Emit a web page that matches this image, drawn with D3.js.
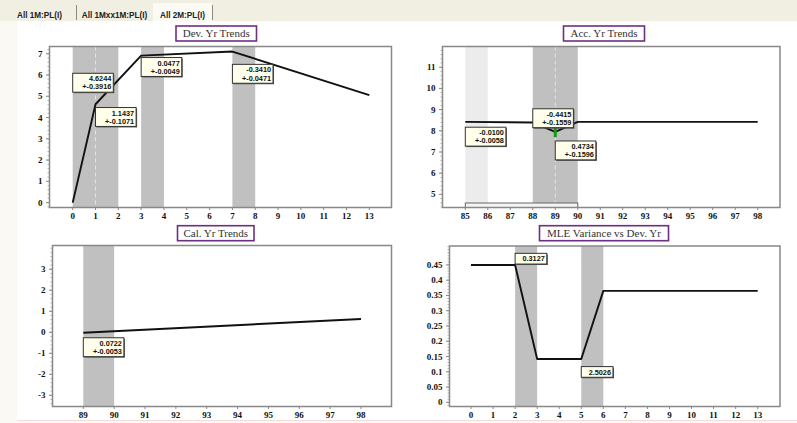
<!DOCTYPE html>
<html>
<head>
<meta charset="utf-8">
<script src="https://cdn.jsdelivr.net/npm/d3@7"></script>
<style>
  html, body { margin: 0; padding: 0; background: #ffffff; }
  svg { display: block; }
</style>
</head>
<body>
<svg id="chart" width="797" height="423"></svg>
<script>
// ---- tabs ----
const tabNames = ["All 1M:PL(I)", "All 1Mxx1M:PL(I)", "All 2M:PL(I)"];

// ---- Dev. Yr Trends ----
const devTicks = [0,1,2,3,4,5,6,7,8,9,10,11,12,13];
const devYTicks = [0,1,2,3,4,5,6,7];
const devYears = [0, 1, 3, 7, 13];
const devValues = [0, 4.6244, 6.9118, 7.1026, 5.0566];
const devBands = [[0, 2], [3, 4], [7, 8]];
const devNotes = [
  { x: 0, y: 6.08, lines: ["4.6244", "+-0.3916"] },
  { x: 1, y: 4.47, lines: ["1.1437", "+-0.1071"] },
  { x: 3, y: 6.82, lines: ["0.0477", "+-0.0049"] },
  { x: 7, y: 6.50, lines: ["-0.3410", "+-0.0471"] }
];

// ---- Acc. Yr Trends ----
const accTicks = [85,86,87,88,89,90,91,92,93,94,95,96,97,98];
const accYTicks = [5,6,7,8,9,10,11];
const accYears = [85, 88, 89, 90, 98];
const accValues = [8.42, 8.39, 7.95, 8.42, 8.42];
const accBandsLight = [[85, 86]];
const accBands = [[88, 90]];
const accError = { x: 89, lo: 7.70, hi: 8.24 };
const accNotes = [
  { x: 85, y: 8.17, lines: ["-0.0100", "+-0.0058"] },
  { x: 88, y: 9.04, lines: ["-0.4415", "+-0.1559"] },
  { x: 89, y: 7.52, lines: ["0.4734", "+-0.1596"] }
];

// ---- Cal. Yr Trends ----
const calTicks = [89,90,91,92,93,94,95,96,97,98];
const calYTicks = [-3,-2,-1,0,1,2,3];
const calYears = [89, 98];
const calValues = [-0.02, 0.63];
const calBands = [[89, 90]];
const calNotes = [
  { x: 89, y: -0.26, lines: ["0.0722", "+-0.0053"] }
];

// ---- MLE Variance vs Dev. Yr ----
const mleTicks = [0,1,2,3,4,5,6,7,8,9,10,11,12,13];
const mleYTicks = [0,0.05,0.1,0.15,0.2,0.25,0.3,0.35,0.4,0.45];
const mleYears = [0, 2, 3, 5, 6, 13];
const mleValues = [0.45, 0.45, 0.142, 0.142, 0.365, 0.365];
const mleBands = [[2, 3], [5, 6]];
const mleNotes = [
  { x: 2, y: 0.488, lines: ["0.3127"] },
  { x: 5, y: 0.117, lines: ["2.5026"] }
];

const svg = d3.select("#chart");

// window frame and tab strip
svg.append("rect").attr("x", 0).attr("y", 0).attr("width", 797).attr("height", 423).attr("fill", "#faf9f3");
svg.append("rect").attr("x", 0).attr("y", 0).attr("width", 797).attr("height", 21).attr("fill", "#f1efe2");
svg.append("rect").attr("x", 17).attr("y", 21).attr("width", 780).attr("height", 399).attr("fill", "#ffffff");
svg.append("line").attr("x1", 17).attr("x2", 797).attr("y1", 420.5).attr("y2", 420.5).attr("stroke", "#f2dcdc");

const tabX = [[3, 76], [76, 153], [153, 212]];
tabNames.forEach((t, i) => {
  const [a, b] = tabX[i];
  if (i === 2) {
    svg.append("rect").attr("x", a).attr("y", 3).attr("width", b - a).attr("height", 18).attr("fill", "#fbfaf4");
  }
  svg.append("line").attr("x1", b + 0.5).attr("x2", b + 0.5).attr("y1", 5).attr("y2", 20).attr("stroke", "#8a8a80");
  svg.append("text").attr("x", (a + b) / 2).attr("y", 17.5)
    .attr("text-anchor", "middle")
    .attr("font-family", "Liberation Sans, Arial, sans-serif")
    .attr("font-weight", "bold").attr("font-size", 8.2)
    .attr("fill", "#222").text(t);
});

function panel(cfg) {
  const g = svg.append("g");
  const x = d3.scaleLinear().domain(cfg.xd).range(cfg.xr);
  const y = d3.scaleLinear().domain(cfg.yd).range(cfg.yr);
  const [bx0, by0, bx1, by1] = cfg.box;

  g.append("rect").attr("x", bx0).attr("y", by0).attr("width", bx1 - bx0).attr("height", by1 - by0)
    .attr("fill", "#ffffff");

  (cfg.lightBands || []).forEach(b => {
    g.append("rect").attr("x", x(b[0])).attr("y", by0).attr("width", x(b[1]) - x(b[0])).attr("height", by1 - by0)
      .attr("fill", "#ececec");
  });
  cfg.bands.forEach(b => {
    g.append("rect").attr("x", x(b[0])).attr("y", by0).attr("width", x(b[1]) - x(b[0])).attr("height", by1 - by0)
      .attr("fill", "#c0c0c0");
  });
  (cfg.dashAt || []).forEach(v => {
    g.append("line").attr("x1", x(v)).attr("x2", x(v)).attr("y1", by0).attr("y2", by1)
      .attr("stroke", "#e4e4e4").attr("stroke-width", 1).attr("stroke-dasharray", "4,3");
  });

  if (cfg.bracket) {
    g.append("rect").attr("x", x(cfg.bracket[0])).attr("y", by1 - 4.5)
      .attr("width", x(cfg.bracket[1]) - x(cfg.bracket[0])).attr("height", 4.5)
      .attr("fill", "#f4f4f4").attr("stroke", "#666").attr("stroke-width", 1);
  }

  // trend line
  const line = d3.line().x(d => x(d[0])).y(d => y(d[1]));
  g.append("path").datum(cfg.xs.map((v, i) => [v, cfg.ys[i]]))
    .attr("d", line).attr("fill", "none").attr("stroke", "#111").attr("stroke-width", 1.9)
    .attr("stroke-linejoin", "round");

  if (cfg.err) {
    g.append("line").attr("x1", x(cfg.err.x)).attr("x2", x(cfg.err.x))
      .attr("y1", y(cfg.err.lo)).attr("y2", y(cfg.err.hi))
      .attr("stroke", "#119911").attr("stroke-width", 3);
  }

  // frame
  g.append("rect").attr("x", bx0).attr("y", by0).attr("width", bx1 - bx0).attr("height", by1 - by0)
    .attr("fill", "none").attr("stroke", "#888").attr("stroke-width", 1.5);

  // x axis ticks and labels
  cfg.xt.forEach(v => {
    g.append("line").attr("x1", x(v)).attr("x2", x(v)).attr("y1", by1).attr("y2", by1 + 2.5)
      .attr("stroke", "#888");
    g.append("text").attr("x", x(v)).attr("y", by1 + 11).attr("text-anchor", "middle")
      .attr("font-family", "Liberation Serif, Times New Roman, serif").attr("font-weight", "bold")
      .attr("font-size", 9).attr("fill", "#111").text(v);
  });

  // y axis: minor + major ticks
  const step = cfg.yt[1] - cfg.yt[0];
  const minor = step / 5;
  const lo = cfg.yd[0], hi = cfg.yd[1];
  for (let v = Math.ceil(lo / minor) * minor; v <= hi + 1e-9; v += minor) {
    const yy = y(v);
    if (yy < by0 || yy > by1) continue;
    g.append("line").attr("x1", bx0 - 2).attr("x2", bx0).attr("y1", yy).attr("y2", yy)
      .attr("stroke", "#999").attr("stroke-width", 0.8);
  }
  cfg.yt.forEach(v => {
    g.append("line").attr("x1", bx0 - 3.5).attr("x2", bx0).attr("y1", y(v)).attr("y2", y(v))
      .attr("stroke", "#888");
    g.append("text").attr("x", bx0 - 7).attr("y", y(v) + 3).attr("text-anchor", "end")
      .attr("font-family", "Liberation Serif, Times New Roman, serif").attr("font-weight", "bold")
      .attr("font-size", 9).attr("fill", "#111").text(cfg.yfmt ? cfg.yfmt(v) : v);
  });

  // annotations
  cfg.notes.forEach(n => {
    const lh = 8.2;
    const w = d3.max(n.lines, s => s.length) * 4.45 + 5;
    const h = n.lines.length * lh + 2.5;
    const nx = x(n.x), ny = y(n.y);
    g.append("rect").attr("x", nx + 1).attr("y", ny + 1).attr("width", w).attr("height", h)
      .attr("fill", "#555");
    g.append("rect").attr("x", nx).attr("y", ny).attr("width", w).attr("height", h)
      .attr("fill", "#ffffec").attr("stroke", "#333").attr("stroke-width", 1);
    n.lines.forEach((s, i) => {
      g.append("text").attr("x", nx + w - 2).attr("y", ny + 8 + i * lh).attr("text-anchor", "end")
        .attr("font-family", "Liberation Sans, Arial, sans-serif").attr("font-weight", "bold")
        .attr("font-size", 7.3).attr("fill", "#111").text(s);
    });
  });

  // title
  const tb = cfg.titleBox;
  g.append("rect").attr("x", tb[0]).attr("y", tb[1]).attr("width", tb[2] - tb[0]).attr("height", tb[3] - tb[1])
    .attr("fill", "#ffffff").attr("stroke", "#6e2f80").attr("stroke-width", 1.6);
  g.append("text").attr("x", (tb[0] + tb[2]) / 2).attr("y", tb[3] - 4.2).attr("text-anchor", "middle")
    .attr("font-family", "Liberation Serif, Times New Roman, serif").attr("font-size", 11)
    .attr("fill", "#333").text(cfg.title);
}

panel({
  title: "Dev. Yr Trends", titleBox: [176, 26, 256.5, 41],
  box: [49.5, 46.5, 391.5, 207.5],
  xd: [0, 13], xr: [72.7, 369.3], yd: [-0.22, 7.33], yr: [207.3, 46.7],
  xt: devTicks, yt: devYTicks, xs: devYears, ys: devValues,
  bands: devBands, dashAt: [1], notes: devNotes
});

panel({
  title: "Acc. Yr Trends", titleBox: [563.5, 26, 644.5, 41],
  box: [442.5, 46.5, 780, 207.5],
  xd: [85, 98], xr: [465.3, 757.7], yd: [4.37, 11.97], yr: [207.7, 46.7],
  xt: accTicks, yt: accYTicks, xs: accYears, ys: accValues,
  lightBands: accBandsLight, bands: accBands, dashAt: [89], bracket: [85, 90],
  err: accError, notes: accNotes
});

panel({
  title: "Cal. Yr Trends", titleBox: [177.5, 225.7, 254, 240.7],
  box: [52.5, 245.5, 391.5, 406.5],
  xd: [89, 98], xr: [83.3, 361], yd: [-3.54, 4.12], yr: [406.7, 245.7],
  xt: calTicks, yt: calYTicks, xs: calYears, ys: calValues,
  bands: calBands, notes: calNotes
});

panel({
  title: "MLE Variance vs Dev. Yr", titleBox: [539.5, 225.7, 668.5, 240.7],
  box: [449.5, 246, 780, 406.5],
  xd: [0, 13], xr: [471, 757.7], yd: [-0.0144, 0.512], yr: [406.7, 246],
  xt: mleTicks, yt: mleYTicks, xs: mleYears, ys: mleValues,
  yfmt: v => d3.format("~g")(+v.toFixed(2)),
  bands: mleBands, notes: mleNotes
});
</script>
</body>
</html>
